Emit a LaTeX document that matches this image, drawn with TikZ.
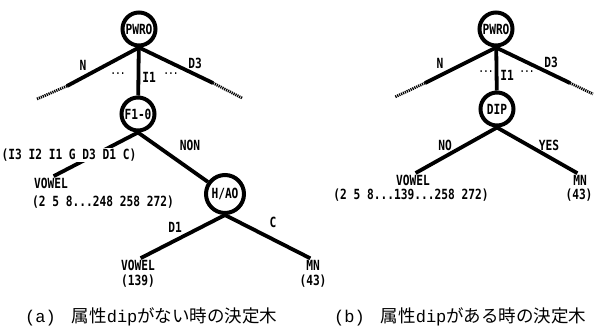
\documentclass[tikz,border=0pt]{standalone}
\usepackage{fontspec}
\newfontfamily\lab{DejaVu Sans Mono}[FakeStretch=0.8]
\newfontfamily\cjk{Noto Sans CJK JP}
\newfontfamily\capmono{Liberation Mono}
\begin{document}
\begin{tikzpicture}[x=1pt,y=-1pt,
  labfont/.style={font=\lab\bfseries\fontsize{14}{14}\selectfont},
  nd/.style={circle,draw,line width=4pt,minimum size=33pt,inner sep=0pt,labfont},
  edge/.style={line width=3.8pt},
  leafedge/.style={line width=3.8pt,shorten >=3pt},
  hatch/.style={line width=2.8pt,dash pattern=on 1.2pt off 0.9pt},
  lbl/.style={labfont,inner sep=0pt},
  dots/.style={font=\lab\bfseries\fontsize{10}{10}\selectfont,inner sep=0pt},
  captext/.style={font=\fontsize{17}{17}\selectfont,inner sep=0pt,anchor=west}]
\useasboundingbox (0,0) rectangle (594,331);

% ---------- tree (a) ----------
\node[nd] (rootA) at (139,29) {PWRO};
\node[nd] (fA) at (138,114) {F1-0};
\node[nd,minimum size=38pt] (hA) at (225,194) {H/AO};
\coordinate (aL1) at (67,86);
\coordinate (aL2) at (37,99);
\coordinate (aR1) at (213,83);
\coordinate (aR2) at (242,98);
\draw[edge] (rootA.south) -- (aL1);
\draw[hatch] (aL1) -- (aL2);
\draw[edge] (rootA.south) -- (aR1);
\draw[hatch] (aR1) -- (aR2);
\draw[edge] (rootA) -- (fA);
\node[lbl] (nA) at (83,65) {N};
\node[dots] (d1A) at (118,74) {...};
\node[lbl] (i1A) at (149,77) {I1};
\node[dots] (d2A) at (171,74) {...};
\node[lbl] (d3A) at (195,63) {D3};

\node[lbl] (vA) at (51,183) {VOWEL};
\node[lbl] (vnA) at (103,202) {(2 5 8...248 258 272)};
\draw[leafedge] (fA.south) -- (vA.north);
\node[lbl,fill=white,inner sep=1pt] (setA) at (69,155) {(I3 I2 I1 G D3 D1 C)};
\draw[edge] (fA.south) -- (hA);
\node[lbl] (nonA) at (190,145) {NON};

\node[lbl] (v2A) at (138,265) {VOWEL};
\node[lbl] (v2nA) at (138,281) {(139)};
\node[lbl] (mnA) at (313,265) {MN};
\node[lbl] (mnnA) at (313,281) {(43)};
\draw[leafedge] (hA.south) -- (v2A.north);
\draw[leafedge] (hA.south) -- (mnA.north);
\node[lbl] (dA) at (175,227) {D1};
\node[lbl] (cA) at (273,222) {C};

% ---------- tree (b) ----------
\node[nd] (rootB) at (496,29) {PWRO};
\node[nd] (dipB) at (497,109) {DIP};
\coordinate (bL1) at (425,83);
\coordinate (bL2) at (395,97);
\coordinate (bR1) at (570,83);
\coordinate (bR2) at (593,94);
\draw[edge] (rootB.south) -- (bL1);
\draw[hatch] (bL1) -- (bL2);
\draw[edge] (rootB.south) -- (bR1);
\draw[hatch] (bR1) -- (bR2);
\draw[edge] (rootB) -- (dipB);
\node[lbl] (nB) at (440,63) {N};
\node[dots] (d1B) at (486,72) {...};
\node[lbl] (i1B) at (507,75) {I1};
\node[dots] (d2B) at (527,72) {...};
\node[lbl] (d3B) at (551,62) {D3};

\node[lbl] (vB) at (413,180) {VOWEL};
\node[lbl] (vnB) at (411,195) {(2 5 8...139...258 272)};
\node[lbl] (mnB) at (580,180) {MN};
\node[lbl] (mnnB) at (579,195) {(43)};
\draw[leafedge] (dipB.south) -- (vB.north);
\draw[leafedge] (dipB.south) -- (mnB.north);
\node[lbl] (noB) at (445,145) {NO};
\node[lbl] (yesB) at (549,145) {YES};

% ---------- captions ----------
\node[captext] (capA) at (25,317) {{\capmono(a)}\hspace{16pt}{\cjk\fontsize{17.5}{17.5}\selectfont 属性}{\capmono dip}{\cjk\fontsize{17.5}{17.5}\selectfont がない時の決定木}};
\node[captext] (capB) at (334,317) {{\capmono(b)}\hspace{16pt}{\cjk\fontsize{17.5}{17.5}\selectfont 属性}{\capmono dip}{\cjk\fontsize{17.5}{17.5}\selectfont がある時の決定木}};
\end{tikzpicture}
\end{document}
